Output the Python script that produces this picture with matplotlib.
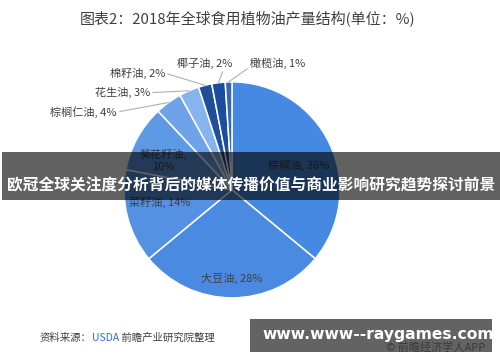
import numpy as np
import matplotlib
matplotlib.use("Agg")
import matplotlib.pyplot as plt
from matplotlib.patches import Rectangle

plt.rcParams['font.family'] = ['Noto Sans CJK SC', 'DejaVu Sans']

# data (clockwise from 12 o'clock)
oils = ['棕榈油', '大豆油', '菜籽油', '葵花籽油', '棕榈仁油', '花生油', '棉籽油', '椰子油', '橄榄油']
shares = [36, 28, 14, 10, 4, 3, 2, 2, 1]
colors = ['#4589e2', '#4a8be1', '#5491e3', '#5e99e6', '#6ea3ea', '#86b4ee',
          '#1f4f98', '#1b4d9c', '#3467b8']

TITLE = '图表2：2018年全球食用植物油产量结构(单位：%)'
BANNER = '欧冠全球关注度分析背后的媒体传播价值与商业影响研究趋势探讨前景'
TXT = '#404040'

fig = plt.figure(figsize=(5.0, 3.62), dpi=100)
ax = fig.add_axes([0.248, 0.177, 0.432, 0.597])
wedges, _ = ax.pie(shares, colors=colors, startangle=90, counterclock=False,
                   wedgeprops=dict(edgecolor='white', linewidth=1.1))
ax.set_xlim(-1, 1)
ax.set_ylim(-1, 1)
ax.set_aspect('equal')

# labels inside the big slices: (x, y, text)
inner = {
    '棕榈油': (0.62, 0.23, '棕榈油, 36%'),
    '大豆油': (0.0, -0.82, '大豆油, 28%'),
    '菜籽油': (-0.67, -0.12, '菜籽油, 14%'),
    '葵花籽油': (-0.64, 0.27, '葵花籽油,\n10%'),
}
for k, (x, y, s) in inner.items():
    ax.text(x, y, s, ha='center', va='center', fontsize=8, color=TXT,
            linespacing=1.3)

# outer labels with leader lines: (x, y, ha, relpos)
outer = {
    '棕榈仁油': (-1.065, 0.72, 'right', (1, 0.5)),
    '花生油': (-0.76, 0.90, 'right', (1, 0.5)),
    '棉籽油': (-0.62, 1.08, 'right', (1, 0.5)),
    '椰子油': (0.0, 1.17, 'right', (0.85, 0.0)),
    '橄榄油': (0.167, 1.17, 'left', (0.0, 0.2)),
}
for w, name, v in zip(wedges, oils, shares):
    if name not in outer:
        continue
    tx, ty, ha, rp = outer[name]
    th = np.deg2rad((w.theta1 + w.theta2) / 2)
    ax.annotate(f'{name}, {v}%', xy=(np.cos(th), np.sin(th)), xytext=(tx, ty),
                ha=ha, va='center', fontsize=8, color=TXT,
                arrowprops=dict(arrowstyle='-', color='#b0b0b0', lw=0.8,
                                relpos=rp, shrinkA=0, shrinkB=0))

# overlay in pixel coords
ov = fig.add_axes([0, 0, 1, 1])
ov.set_xlim(0, 500)
ov.set_ylim(362, 0)
ov.axis('off')

ov.text(248, 18, TITLE, ha='center', va='center', fontsize=10.8, color=TXT)

ov.add_patch(Rectangle((2, 152), 498, 48, facecolor='black', alpha=0.62,
                       edgecolor='none'))
ov.text(251, 185, BANNER, ha='center', va='center', fontsize=11.3,
        color='white', fontweight='bold')

t1 = ov.text(40, 343, '资料来源：', ha='left', va='bottom', fontsize=7.5, color=TXT)
t2 = ov.annotate('USDA', xy=(1, 0), xycoords=t1, ha='left', va='bottom',
                 fontsize=7.5, color='#2f72c0')
ov.annotate(' 前瞻产业研究院整理', xy=(1, 0), xycoords=t2, ha='left',
            va='bottom', fontsize=7.5, color=TXT)

ov.add_patch(Rectangle((250, 319), 242, 33, facecolor='#636363',
                       edgecolor='none'))
ov.text(262, 334, 'www.www--raygames.com', ha='left', va='center',
        fontsize=11.2, color='white', fontweight='bold', family='DejaVu Sans')
ov.text(386, 347, '© 前瞻经济学人APP', ha='left', va='center', fontsize=8,
        color='#3a3a3a')

fig.savefig('out.png', dpi=100)
